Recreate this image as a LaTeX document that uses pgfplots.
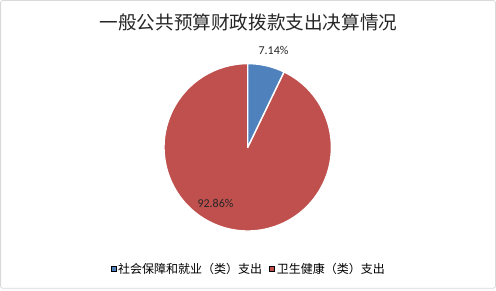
\documentclass[border=0pt]{standalone}
\usepackage{pgfplots}
\pgfplotsset{compat=1.18}
\usepackage{pgfplotstable}
\usepackage{fontspec}
\setmainfont{Carlito}
\newfontfamily\cjk{Noto Sans CJK SC}
\definecolor{sbblue}{HTML}{4F81BD}
\definecolor{wsred}{HTML}{C0504D}
\definecolor{frame}{HTML}{D9D9D9}
\pgfplotstableread{
idx value
0 7.14
1 92.86
}\piedata
\begin{document}
\begin{tikzpicture}[x=1bp,y=1bp]
\path (0,0) rectangle (496,290);
\draw[frame, line width=0.8bp, rounded corners=2bp] (0.6,1.8) rectangle (495.4,289.4);
\node[font=\cjk\fontsize{18.6bp}{20bp}\selectfont, text=black!85] at (248.5,267.5) {一般公共预算财政拨款支出决算情况};
\begin{axis}[
  at={(247.7bp,142.7bp)}, anchor=center,
  scale only axis, width=167.4bp, height=167.4bp,
  xmin=-1, xmax=1, ymin=-1, ymax=1,
  hide axis,
  clip=false,
  legend columns=2,
  legend style={draw=none, fill=none, at={(0.506,-0.227)}, anchor=center,
    font=\cjk\fontsize{12bp}{14bp}\selectfont,
    /tikz/every even column/.append style={column sep=5bp},
    inner sep=0pt},
  legend image code/.code={\fill[#1] (0bp,-2.6bp) rectangle (5.2bp,2.6bp);},
]
\pgfplotstablegetelem{0}{value}\of\piedata
\pgfmathsetmacro\va{\pgfplotsretval}
\pgfplotstablegetelem{1}{value}\of\piedata
\pgfmathsetmacro\vb{\pgfplotsretval}
\pgfmathsetmacro\aa{90}
\pgfmathsetmacro\ab{90-3.6*\va}
\pgfmathsetmacro\ac{\ab-3.6*\vb}
\addlegendimage{fill=sbblue}
\addlegendentry{社会保障和就业（类）支出}
\addlegendimage{fill=wsred}
\addlegendentry{卫生健康（类）支出}
\filldraw[fill=wsred, draw=white, line width=1.4bp, line join=round]
  (axis cs:0,0) -- (axis cs:{cos(\ab)},{sin(\ab)}) arc[start angle=\ab, end angle=\ac, radius=83.7bp] -- cycle;
\filldraw[fill=sbblue, draw=white, line width=1.4bp, line join=round]
  (axis cs:0,0) -- (axis cs:{cos(\aa)},{sin(\aa)}) arc[start angle=\aa, end angle=\ab, radius=83.7bp] -- cycle;
\node[font=\fontsize{12bp}{14bp}\selectfont, text=black!85] at (axis cs:0.308,1.162) {7.14\%};
\node[font=\fontsize{12bp}{14bp}\selectfont, text=black!85] at (axis cs:-0.385,-0.666) {92.86\%};
\end{axis}
\end{tikzpicture}
\end{document}
